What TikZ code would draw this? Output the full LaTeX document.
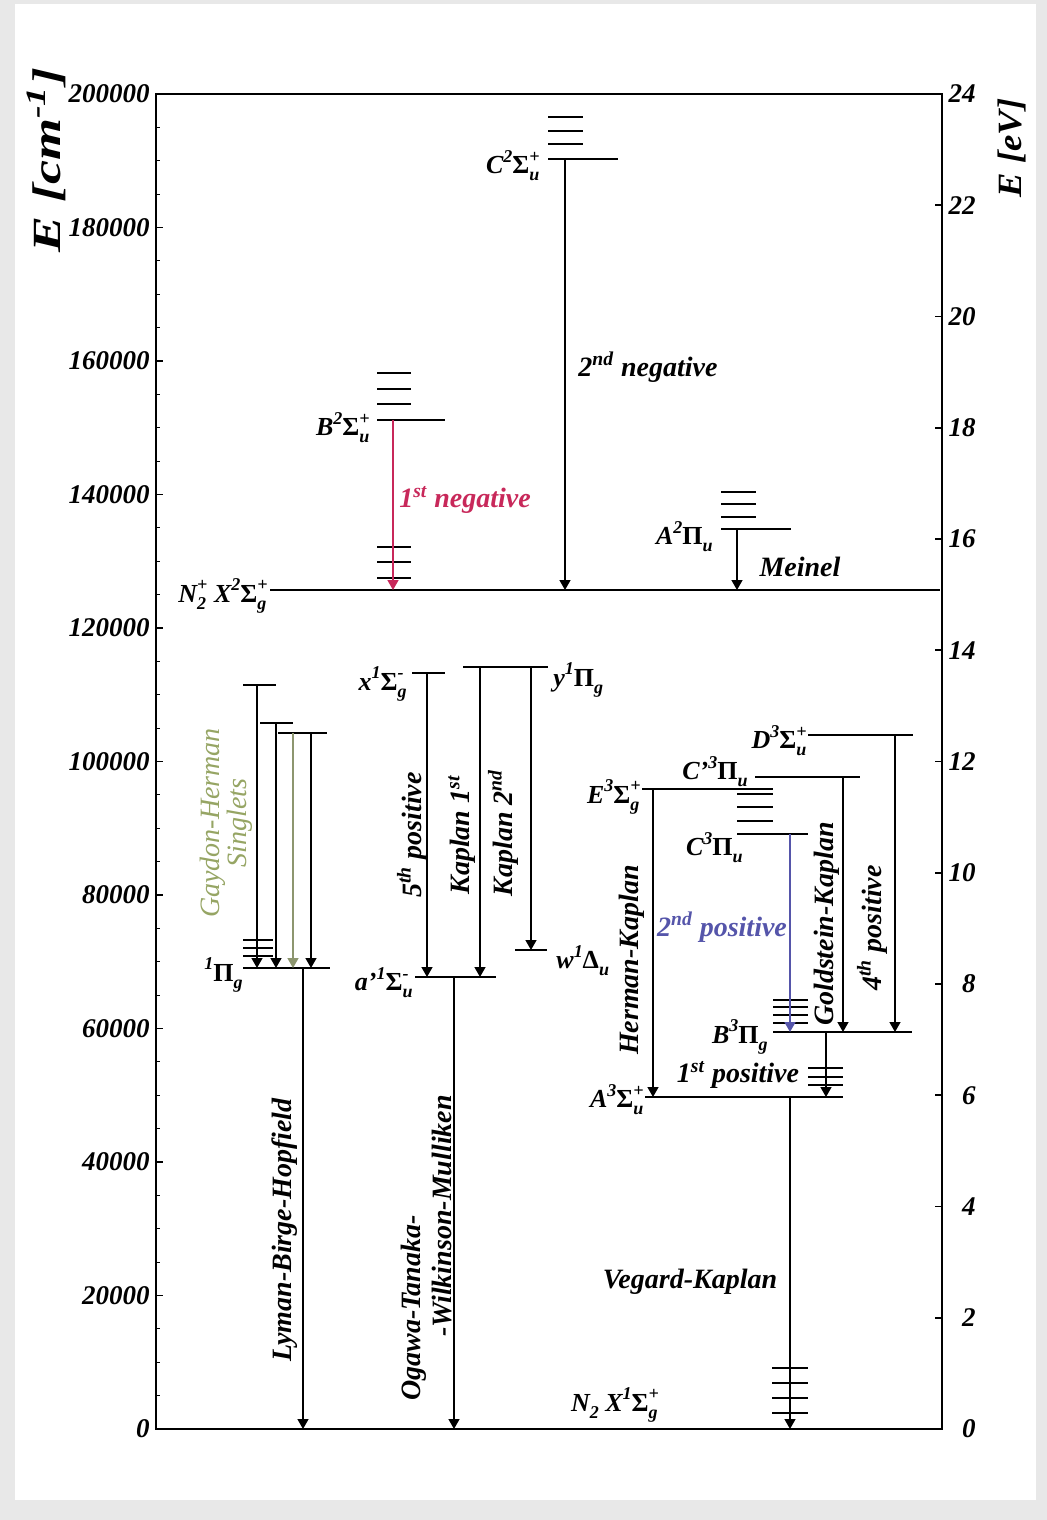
\documentclass[tikz,border=0pt]{standalone}
\usepackage{fontspec}
\setmainfont{Liberation Serif}
\usetikzlibrary{arrows.meta}
\newcommand{\SupSub}[2]{%
  \setbox0=\hbox{\fontsize{9}{10}\selectfont #1}%
  \setbox2=\hbox{\fontsize{9}{10}\selectfont #2}%
  \dimen0=\wd0 \ifdim\wd2>\dimen0 \dimen0=\wd2 \fi
  \hbox to \dimen0{\rlap{\raise5.6pt\box0}\lower3.5pt\box2\hss}}
\newcommand{\GSig}{{\upshape Σ}}
\newcommand{\GPi}{{\upshape Π}}
\newcommand{\GDel}{{\upshape Δ}}
\definecolor{negc}{RGB}{200,40,90}
\definecolor{posc}{RGB}{85,85,170}
\definecolor{ghc}{RGB}{150,165,100}
\begin{document}
\begin{tikzpicture}[x=0.5pt,y=-0.5pt,
  lvl/.style={line width=1pt},
  arr/.style={line width=0.7pt,-{Triangle[length=5pt,width=5.5pt]}},
  lab/.style={font=\fontsize{14}{16}\selectfont\bfseries\itshape, inner sep=0pt},
  rlab/.style={lab, rotate=90},
  st/.style={font=\fontsize{13}{15}\selectfont\bfseries\itshape, inner sep=0pt},
  tick/.style={font=\fontsize{13.5}{15}\selectfont\bfseries\itshape, inner sep=0pt}]
\useasboundingbox (0,0) rectangle (1047,1520);
\fill[gray!18] (0,0) rectangle (1047,1520);
\fill[white] (15,4) rectangle (1036,1500);
% frame and axes
\draw[line width=1.4pt] (156,94) rectangle (942,1429);
\foreach \i in {0,...,40} \draw[line width=0.6pt] (156,{1429-33.375*\i}) -- ++(4,0);
\foreach \k/\t in {0/0,1/20000,2/40000,3/60000,4/80000,5/100000,6/120000,7/140000,8/160000,9/180000,10/200000}{
  \draw[line width=0.6pt] (156,{1429-133.5*\k}) -- ++(7,0);
  \node[tick,anchor=east] (L\k) at (150,{1429-133.5*\k}) {\t};}
\foreach \k in {0,...,12}{
  \pgfmathtruncatemacro{\v}{2*\k}
  \draw[line width=0.8pt] (942,{1429-111.25*\k}) -- ++(-7,0);
  \node[tick,anchor=east] (R\k) at (976,{1429-111.25*\k}) {\v};}
\node[rotate=90, xscale=1.35, transform shape, font=\fontsize{20}{22}\selectfont\bfseries\itshape, inner sep=0pt] (ylab) at (46,160) {E [cm\textsuperscript{-1}]};
\node[rotate=90, xscale=1.08, transform shape, font=\fontsize{17}{19}\selectfont\bfseries\itshape, inner sep=0pt] (ylab2) at (1012,148) {E [eV]};

% ---------- N2+ ----------
\draw[lvl] (270,590) -- (940,590);
\node[st, anchor=east] (nxp) at (268,596) {N\SupSub{+}{2} X\SupSub{2}{}\GSig\SupSub{+}{g}};
% B
\draw[lvl] (377,420) -- (445,420);
\foreach \y in {373,389,404,547,562,578} \draw[lvl] (377,\y) -- (411,\y);
\node[st, anchor=east] (bl) at (370,428) {B\SupSub{2}{}\GSig\SupSub{+}{u}};
\coordinate (b1) at (393,420); \coordinate (b2) at (393,590);
\draw[arr, color=negc] (b1) -- (b2);
\node[lab, text=negc] (n1) at (465,500) {1\textsuperscript{st} negative};
% C
\draw[lvl] (548,159) -- (618,159);
\foreach \y in {117,131,144} \draw[lvl] (548,\y) -- (583,\y);
\node[st, anchor=east] (cl) at (540,166) {C\SupSub{2}{}\GSig\SupSub{+}{u}};
\coordinate (c1) at (565,159); \coordinate (c2) at (565,590);
\draw[arr] (c1) -- (c2);
\node[lab] (n2) at (648,367) {2\textsuperscript{nd} negative};
% A2Pi
\draw[lvl] (721,529) -- (791,529);
\foreach \y in {492,504,517} \draw[lvl] (721,\y) -- (756,\y);
\node[st, anchor=east] (al) at (713,537) {A\SupSub{2}{}\GPi\SupSub{}{u}};
\coordinate (a1) at (737,529); \coordinate (a2) at (737,590);
\draw[arr] (a1) -- (a2);
\node[lab] (mein) at (800,567) {Meinel};

% ---------- N2 singlets ----------
\draw[lvl] (243,685) -- (276,685);
\draw[lvl] (260,723) -- (293,723);
\draw[lvl] (278,733) -- (327,733);
\draw[lvl] (243,968) -- (330,968);
\foreach \y in {940,948,956} \draw[lvl] (243,\y) -- (273,\y);
\node[st, anchor=east] (pig) at (243,975) {\SupSub{1}{}\GPi\SupSub{}{g}};
\coordinate (g1t) at (257,685); \coordinate (g1b) at (257,968);
\coordinate (g2t) at (276,723); \coordinate (g2b) at (276,968);
\coordinate (g3t) at (293,733); \coordinate (g3b) at (293,968);
\coordinate (g4t) at (311,733); \coordinate (g4b) at (311,968);
\draw[arr] (g1t) -- (g1b);
\draw[arr] (g2t) -- (g2b);
\draw[arr, color=ghc!60!gray] (g3t) -- (g3b);
\draw[arr] (g4t) -- (g4b);
\node[rotate=90, font=\fontsize{14}{11}\selectfont\itshape, text=ghc, align=center, inner sep=0pt] (gh) at (226,823) {Gaydon-Herman\\Singlets};
\coordinate (l1) at (303,968); \coordinate (l2) at (303,1429);
\draw[arr] (l1) -- (l2);
\node[rlab] (lbh) at (285,1230) {Lyman-Birge-Hopfield};
% x, y, a', w
\draw[lvl] (412,673) -- (445,673);
\draw[lvl] (463,667) -- (548,667);
\draw[lvl] (415,977) -- (496,977);
\draw[lvl] (515,950) -- (547,950);
\node[st, anchor=east] (xl) at (407,684) {x\SupSub{1}{}\GSig\SupSub{-}{g}};
\node[st, anchor=west] (yl) at (553,680) {y\SupSub{1}{}\GPi\SupSub{}{g}};
\node[st, anchor=west] (wl) at (556,961) {w\SupSub{1}{}\GDel\SupSub{}{u}};
\node[st, anchor=east] (apl) at (413,983) {a’\SupSub{1}{}\GSig\SupSub{-}{u}};
\coordinate (x1) at (427,673); \coordinate (x2) at (427,977);
\coordinate (k1t) at (480,667); \coordinate (k1b) at (480,977);
\coordinate (k2t) at (531,667); \coordinate (k2b) at (531,950);
\coordinate (o1) at (454,977); \coordinate (o2) at (454,1429);
\draw[arr] (x1) -- (x2);
\draw[arr] (k1t) -- (k1b);
\draw[arr] (k2t) -- (k2b);
\draw[arr] (o1) -- (o2);
\node[rlab] (p5) at (412,835) {5\textsuperscript{th} positive};
\node[rlab] (kp1) at (462,835) {Kaplan 1\textsuperscript{st}};
\node[rlab] (kp2) at (503,833) {Kaplan 2\textsuperscript{nd}};
\node[rlab] (ot1) at (414,1308) {Ogawa-Tanaka-};
\node[rlab] (ot2) at (442,1216) {-Wilkinson-Mulliken};

% ---------- N2 triplets ----------
\draw[lvl] (642,789) -- (773,789);
\draw[lvl] (755,777) -- (860,777);
\draw[lvl] (808,735) -- (913,735);
\draw[lvl] (737,834) -- (808,834);
\foreach \y in {794,807,821} \draw[lvl] (737,\y) -- (773,\y);
\draw[lvl] (773,1032) -- (912,1032);
\foreach \y in {1000,1007,1015,1023} \draw[lvl] (773,\y) -- (808,\y);
\draw[lvl] (645,1097) -- (843,1097);
\foreach \y in {1068,1077,1085} \draw[lvl] (808,\y) -- (843,\y);
\foreach \y in {1368,1383,1398,1413} \draw[lvl] (772,\y) -- (808,\y);
\node[st, anchor=east] (el) at (641,797) {E\SupSub{3}{}\GSig\SupSub{+}{g}};
\node[st, anchor=east] (cpl) at (748,772) {C’\SupSub{3}{}\GPi\SupSub{}{u}};
\node[st, anchor=east] (dl) at (807,741) {D\SupSub{3}{}\GSig\SupSub{+}{u}};
\node[st, anchor=east] (c3l) at (743,848) {C\SupSub{3}{}\GPi\SupSub{}{u}};
\node[st, anchor=east] (b3l) at (768,1037) {B\SupSub{3}{}\GPi\SupSub{}{g}};
\node[st, anchor=east] (a3l) at (644,1100) {A\SupSub{3}{}\GSig\SupSub{+}{u}};
\coordinate (hk1) at (653,789); \coordinate (hk2) at (653,1097);
\coordinate (gk1) at (843,777); \coordinate (gk2) at (843,1032);
\coordinate (p41) at (895,735); \coordinate (p42) at (895,1032);
\coordinate (p21) at (790,834); \coordinate (p22) at (790,1032);
\coordinate (p11) at (826,1032); \coordinate (p12) at (826,1097);
\coordinate (vk1) at (790,1097); \coordinate (vk2) at (790,1429);
\draw[arr] (hk1) -- (hk2);
\draw[arr] (gk1) -- (gk2);
\draw[arr] (p41) -- (p42);
\draw[arr, color=posc] (p21) -- (p22);
\draw[arr] (p11) -- (p12);
\draw[arr] (vk1) -- (vk2);
\node[rlab] (hkl) at (632,960) {Herman-Kaplan};
\node[rlab] (gkl) at (827,924) {Goldstein-Kaplan};
\node[rlab] (p4l) at (872,928) {4\textsuperscript{th} positive};
\node[lab, text=posc] (p2l) at (722,927) {2\textsuperscript{nd} positive};
\node[lab] (p1l) at (738,1075) {1\textsuperscript{st} positive};
\node[lab] (vkl) at (690,1282) {Vegard-Kaplan};
\node[st] (nx) at (615,1405) {N\SupSub{}{2} X\SupSub{1}{}\GSig\SupSub{+}{g}};
\end{tikzpicture}
\end{document}
